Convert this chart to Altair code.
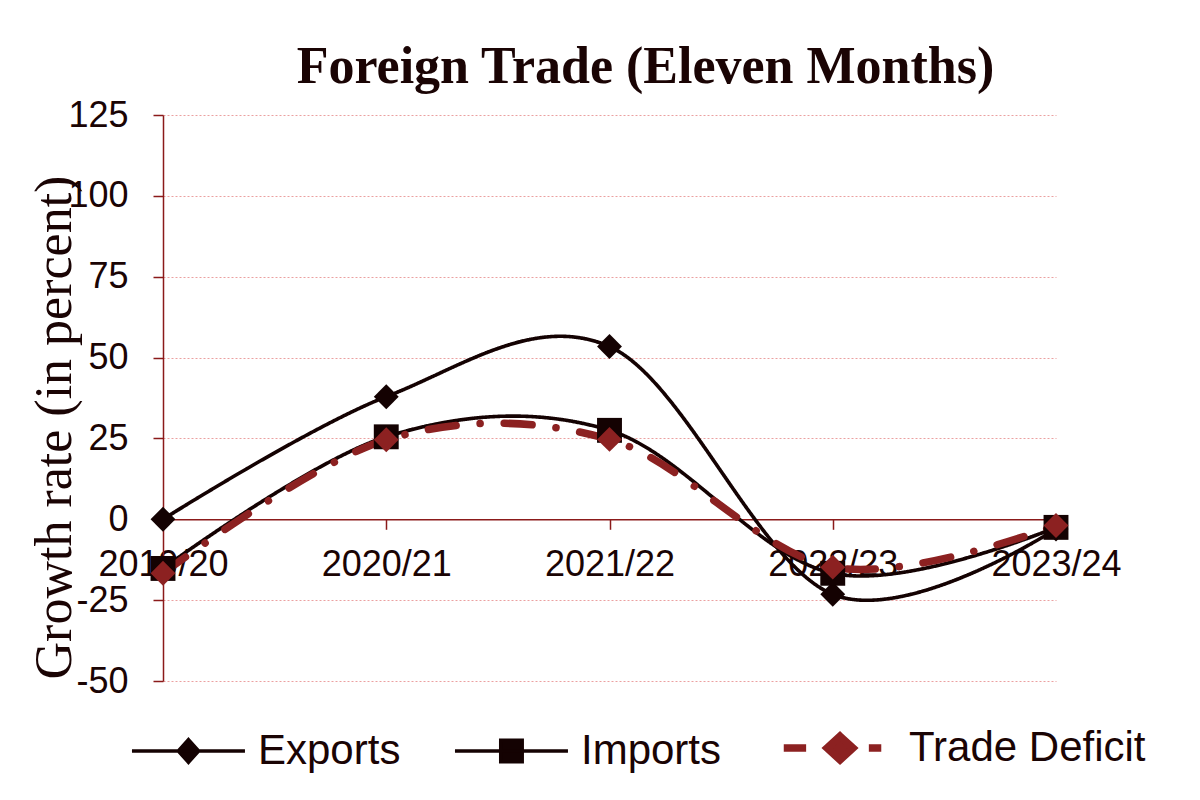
import altair as alt
import pandas as pd

years = ["2019/20", "2020/21", "2021/22", "2022/23", "2023/24"]
exports = [0.0, 37.9, 53.4, -23.2, -3.0]
imports = [-15.2, 25.5, 27.5, -16.7, -2.5]
trade_deficit = [-16.7, 24.6, 24.7, -14.8, -1.9]
series_names = ["Exports", "Imports", "Trade Deficit"]
y_ticks = [-50, -25, 0, 25, 50, 75, 100, 125]

rows = []
for name, vals in zip(series_names, [exports, imports, trade_deficit]):
    for yr, v in zip(years, vals):
        rows.append({"year": yr, "series": name, "marker": name, "value": v})
df = pd.DataFrame(rows)

DARK = "#1a0404"
RED_AXIS = "#8b1a1a"
LINE_BLACK = "#140202"
LINE_RED = "#8c2121"

W, H = 893, 566
zero_from_bottom = H * 50 / 175

color_scale = alt.Scale(domain=series_names, range=[LINE_BLACK, LINE_BLACK, LINE_RED])

x_enc = alt.X(
    "year:N",
    sort=years,
    scale=alt.Scale(type="point", padding=0),
    axis=alt.Axis(
        title=None, labelAngle=0, offset=-zero_from_bottom, tickSize=10,
        labelPadding=18, labelFont="Liberation Sans", labelFontSize=36,
        labelColor=DARK, grid=False, domainColor=RED_AXIS, domainWidth=1.5,
        tickColor=RED_AXIS, tickWidth=1.5, labelOverlap=False,
    ),
)
y_enc = alt.Y(
    "value:Q",
    scale=alt.Scale(domain=[-50, 125], nice=False, zero=False),
    axis=alt.Axis(
        values=y_ticks, title="Growth rate (in percent)",
        labelExpr="toString(datum.value)",
        titleFont="Liberation Serif", titleFontSize=52, titleFontWeight="normal",
        titleColor=DARK, titleX=-93, titleY=312, titleAngle=270,
        titleAlign="center", titleBaseline="alphabetic",
        labelFont="Liberation Sans", labelFontSize=36, labelColor=DARK,
        labelPadding=25, tickSize=10, tickColor=RED_AXIS, tickWidth=1.5,
        domainColor=RED_AXIS, domainWidth=1.5, grid=True,
        gridColor="#eba0a0", gridDash=[2, 2], gridWidth=1,
    ),
)

# legend glyphs (unit coordinates; a line with the series marker on it)
legend_paths = [
    "M-0.39,0L1.61,0M0.61,-0.2L0.79,0L0.61,0.2L0.43,0Z",
    "M-0.39,0L1.61,0M0.42,-0.19L0.8,-0.19L0.8,0.19L0.42,0.19Z",
    "M-0.376,0L0.02,0M1.13,0L1.35,0M0.62,-0.21L0.85,0L0.62,0.21L0.39,0Z",
]
shape_expr = "datum.value === '%s' ? '%s' : datum.value === '%s' ? '%s' : '%s'" % (
    series_names[0], legend_paths[0], series_names[1], legend_paths[1], legend_paths[2]
)
width_expr = "datum.value === '%s' ? 7.5 : 3.5" % series_names[2]
stroke_expr = "scale('color', datum.value)"

legend = alt.Legend(
    orient="none", legendX=-30, legendY=612, direction="horizontal", columns=3,
    title=None, symbolSize=12769, labelFont="Liberation Sans", labelFontSize=42,
    labelColor=DARK, labelOffset=83, columnPadding=46, labelLimit=400,
    symbolType={"expr": shape_expr},
    symbolStrokeWidth={"expr": width_expr},
    symbolStrokeColor={"expr": stroke_expr},
    symbolFillColor={"expr": stroke_expr},
    symbolOpacity=1,
)

base = alt.Chart(df)

lines = base.mark_line(interpolate="cardinal", strokeCap="round").encode(
    x=x_enc,
    y=y_enc,
    color=alt.Color("series:N", scale=color_scale, legend=legend),
    strokeDash=alt.StrokeDash(
        "marker:N",
        scale=alt.Scale(range=[[1, 0], [1, 0], [28, 24, 0.1, 24]]),
        legend=None,
    ),
    strokeWidth=alt.StrokeWidth(
        "marker:N",
        scale=alt.Scale(type="ordinal", range=[3.6, 3.6, 7.5]),
        legend=None,
    ),
    order=alt.Order("year:N"),
)

points = base.mark_point(filled=True, size=620, opacity=1, strokeWidth=1).encode(
    x=x_enc,
    y=y_enc,
    color=alt.Color("series:N", scale=color_scale, legend=legend),
    shape=alt.Shape(
        "marker:N",
        scale=alt.Scale(range=["diamond", "square", "diamond"]),
        legend=None,
    ),
)

chart = alt.layer(lines, points).properties(
    width=W,
    height=H,
    background="white",
    title=alt.TitleParams(
        "Foreign Trade (Eleven Months)", font="Liberation Serif", fontSize=52,
        fontWeight="bold", color=DARK, anchor="middle", dx=36, offset=3,
    ),
    autosize=alt.AutoSizeParams(type="none"),
    padding={"left": 163, "top": 115, "right": 144, "bottom": 119},
).configure_view(stroke=None)

chart.save("out.html", embed_options={"renderer": "svg", "actions": False})
